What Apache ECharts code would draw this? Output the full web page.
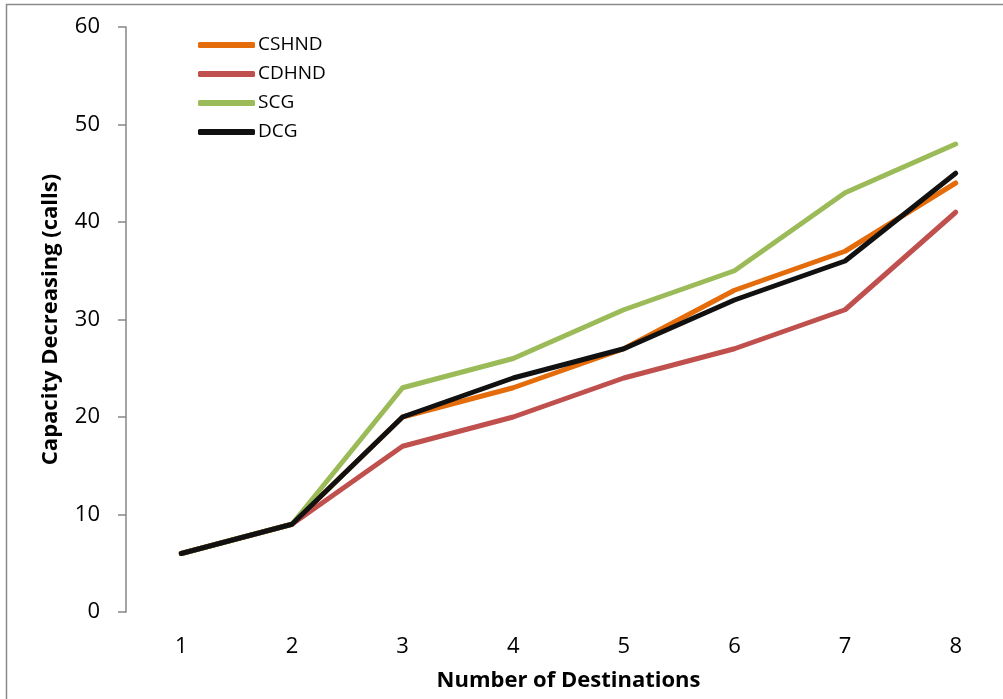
<!DOCTYPE html>
<html><head><meta charset="utf-8">
<script src="https://cdn.jsdelivr.net/npm/echarts@6/dist/echarts.min.js"></script>
<style>html,body{margin:0;padding:0;background:#fff}#c{width:1003px;height:699px}</style>
</head><body><div id="c"></div>
<script>
var categories = ['1','2','3','4','5','6','7','8'];
var CSHND = [6, 9, 20, 23, 27, 33, 37, 44];
var CDHND = [6, 9, 17, 20, 24, 27, 31, 41];
var SCG   = [6, 9, 23, 26, 31, 35, 43, 48];
var DCG   = [6, 9, 20, 24, 27, 32, 36, 45];
var seriesNames = ['CSHND','CDHND','SCG','DCG'];
var seriesData = [CSHND, CDHND, SCG, DCG];
var colors = ['#E46C0A','#C0504D','#9BBB59','#111111'];
var FONT = '"Open Sans", sans-serif';

var chart = echarts.init(document.getElementById('c'), null, {renderer:'canvas'});
chart.setOption({
  animation:false,
  color: colors,
  textStyle:{fontFamily:FONT},
  graphic:[{type:'rect', shape:{x:6.5,y:4.5,width:1200,height:900}, style:{fill:null, stroke:'#8a8a8a', lineWidth:1.5}, silent:true, z:-1}],
  grid:{left:126, top:27, bottom:87, right:-8, containLabel:false, outerBoundsMode:'none'},
  legend:{
    orient:'vertical', left:193, top:29,
    itemWidth:57, itemHeight:6, itemGap:7, icon:'roundRect',
    textStyle:{fontSize:19, color:'#000', fontFamily:FONT, lineHeight:22, padding:[0,0,0,-2]},
    data: seriesNames
  },
  xAxis:{
    type:'category', data:categories, boundaryGap:true,
    axisLine:{show:false}, axisTick:{show:false},
    axisLabel:{fontSize:22, color:'#000', margin:24, fontFamily:FONT},
    name:'Number of Destinations', nameLocation:'middle', nameGap:58,
    nameTextStyle:{fontSize:22, fontWeight:'bold', color:'#000', fontFamily:FONT}
  },
  yAxis:{
    type:'value', min:0, max:60, interval:10,
    axisLine:{show:true, lineStyle:{color:'#868686', width:1.5}},
    axisTick:{show:true, inside:false, length:8, lineStyle:{color:'#868686', width:1.5}},
    splitLine:{show:false},
    axisLabel:{fontSize:22, color:'#000', margin:26, fontFamily:FONT},
    name:'Capacity Decreasing (calls)', nameLocation:'middle', nameGap:64, nameRotate:90,
    nameTextStyle:{fontSize:22, fontWeight:'bold', color:'#000', fontFamily:FONT}
  },
  series: seriesNames.map(function(n,i){
    return {name:n, type:'line', data:seriesData[i], symbol:'none',
      lineStyle:{width:5, color:colors[i], cap:'round', join:'round'}, itemStyle:{color:colors[i]}};
  })
});
</script></body></html>
